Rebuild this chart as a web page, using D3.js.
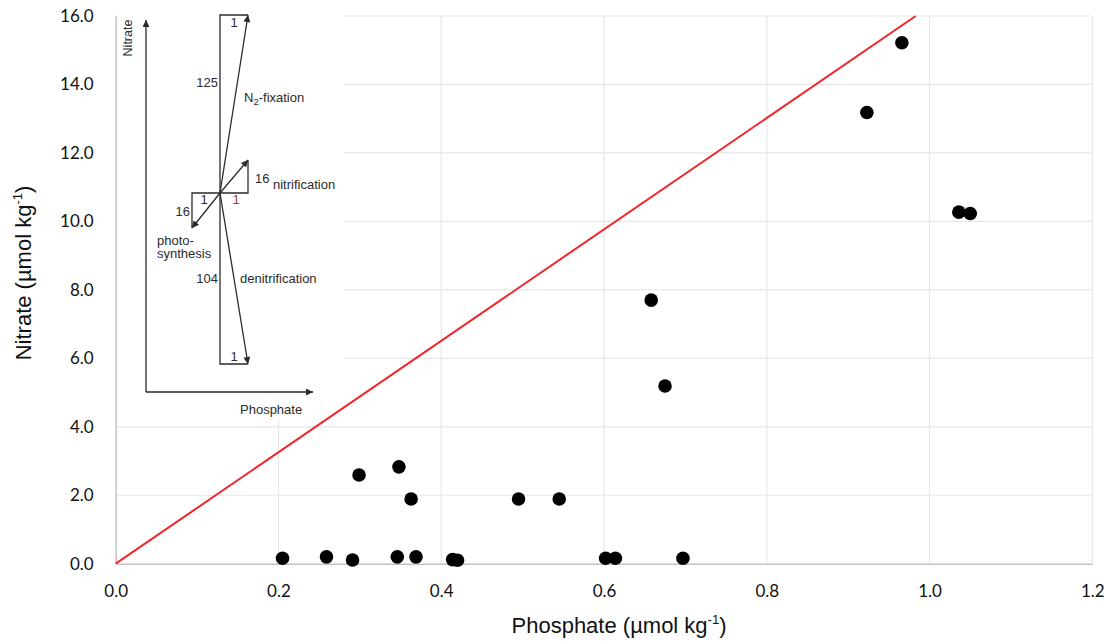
<!DOCTYPE html>
<html>
<head>
<meta charset="utf-8">
<script src="https://cdn.jsdelivr.net/npm/d3@7"></script>
<style>
  body { margin: 0; background: #ffffff; }
  svg { display: block; }
</style>
</head>
<body>
<svg id="chart" width="1113" height="644"></svg>
<script>
// measured samples
var phosphate = [0.205, 0.259, 0.291, 0.299, 0.348, 0.346, 0.363, 0.369, 0.414, 0.420,
                 0.495, 0.545, 0.602, 0.614, 0.658, 0.675, 0.697, 0.923, 0.966, 1.036, 1.050];
var nitrate   = [0.16, 0.20, 0.11, 2.59, 2.83, 0.20, 1.89, 0.20, 0.12, 0.10,
                 1.89, 1.89, 0.16, 0.16, 7.70, 5.19, 0.16, 13.18, 15.22, 10.27, 10.23];

// redfield reference line
var redfieldP = [0, 0.983];
var redfieldN = [0, 16];

var xTicks = [0, 0.2, 0.4, 0.6, 0.8, 1.0, 1.2];
var yTicks = [0, 2, 4, 6, 8, 10, 12, 14, 16];

var chart = {

	svg : null,

	layout : {
		left : 115.7,
		right : 1092.3,
		top : 16,
		bottom : 563.7
	},

	x : null,
	y : null,

	init : function(id) {
		var that = this;
		that.svg = d3.select(id);
		that.x = d3.scaleLinear().domain([0, 1.2]).range([that.layout.left, that.layout.right]);
		that.y = d3.scaleLinear().domain([0, 16]).range([that.layout.bottom, that.layout.top]);
	},

	draw : function() {
		var that = this;
		that.drawGrid();
		that.drawAxes();
		that.drawInset();
		that.drawLine();
		that.drawPoints();
		that.drawTitles();
	},

	drawGrid : function() {
		var that = this;
		var g = that.svg.append("g");
		g.selectAll("line.gx").data(xTicks.slice(1)).enter().append("line")
			.attr("x1", function(d) { return that.x(d); }).attr("x2", function(d) { return that.x(d); })
			.attr("y1", that.layout.top).attr("y2", that.layout.bottom)
			.attr("stroke", "#e7e7e7").attr("stroke-width", 1.2);
		g.selectAll("line.gy").data(yTicks.slice(1)).enter().append("line")
			.attr("x1", that.layout.left).attr("x2", that.layout.right)
			.attr("y1", function(d) { return that.y(d); }).attr("y2", function(d) { return that.y(d); })
			.attr("stroke", "#e7e7e7").attr("stroke-width", 1.2);
	},

	drawAxes : function() {
		var that = this;
		var xAxis = d3.axisBottom(that.x).tickValues(xTicks).tickSize(0).tickPadding(21).tickFormat(d3.format(".1f"));
		var yAxis = d3.axisLeft(that.y).tickValues(yTicks).tickSize(0).tickPadding(22).tickFormat(d3.format(".1f"));

		var gx = that.svg.append("g").attr("transform", "translate(0," + that.layout.bottom + ")").call(xAxis);
		var gy = that.svg.append("g").attr("transform", "translate(" + that.layout.left + ",0)").call(yAxis);

		[gx, gy].forEach(function(g) {
			g.select(".domain").attr("stroke", "#c2c2c2").attr("stroke-width", 1.5);
			g.selectAll("text").attr("font-family", "Lato, 'Open Sans', sans-serif")
				.attr("font-size", "17px").attr("fill", "#111111");
		});
	},

	drawInset : function() {
		var that = this;
		var g = that.svg.append("g");
		var ink = "#2b2b2b";
		var font = "'Liberation Sans', Arial, sans-serif";

		g.append("rect").attr("x", 117).attr("y", 0).attr("width", 227).attr("height", 420).attr("fill", "#ffffff");

		var defs = that.svg.append("defs");
		defs.append("marker").attr("id", "arr").attr("viewBox", "0 0 10 10")
			.attr("refX", 10).attr("refY", 5).attr("markerWidth", 9).attr("markerHeight", 7)
			.attr("markerUnits", "userSpaceOnUse").attr("orient", "auto")
			.append("path").attr("d", "M0,0 L10,5 L0,10 Z").attr("fill", ink);

		// axes of the sketch
		g.append("path").attr("d", "M146,392 L146,20").attr("stroke", ink).attr("stroke-width", 1.3).attr("fill", "none").attr("marker-end", "url(#arr)");
		g.append("path").attr("d", "M146,392 L313,392").attr("stroke", ink).attr("stroke-width", 1.3).attr("fill", "none").attr("marker-end", "url(#arr)");

		// boxes
		var boxes = ["M248,15 L220,15 L220,364 L248,364", "M220,193 L248,193 L248,160", "M220,193 L192,193 L192,228"];
		boxes.forEach(function(d) {
			g.append("path").attr("d", d).attr("stroke", ink).attr("stroke-width", 1.3).attr("fill", "none");
		});

		// process vectors from the centre
		var tips = [[248, 15], [248, 160], [192, 228], [248, 364]];
		tips.forEach(function(t) {
			g.append("line").attr("x1", 220).attr("y1", 193).attr("x2", t[0]).attr("y2", t[1])
				.attr("stroke", ink).attr("stroke-width", 1.3).attr("marker-end", "url(#arr)");
		});

		var txt = function(x, y, s, anchor, color) {
			return g.append("text").attr("x", x).attr("y", y).attr("font-family", font).attr("font-size", "13px")
				.attr("fill", color || ink).attr("text-anchor", anchor || "start").text(s);
		};

		g.append("text").attr("transform", "translate(132,38) rotate(-90)").attr("text-anchor", "middle")
			.attr("font-family", font).attr("font-size", "12.5px").attr("fill", ink).text("Nitrate");
		txt(240, 414, "Phosphate");

		txt(234, 27, "1", "middle");
		txt(218, 87, "125", "end");
		var n2 = txt(244, 102, "N");
		n2.append("tspan").attr("font-size", "9.5px").attr("dy", 3).text("2");
		n2.append("tspan").attr("dy", -3).text("-fixation");

		txt(255, 183, "16");
		txt(273, 189, "nitrification");
		txt(204, 204, "1", "middle");
		txt(236, 204, "1", "middle", "#9c3b28");
		txt(190, 216, "16", "end");
		txt(157, 245, "photo-");
		txt(157, 258, "synthesis");
		txt(218, 283, "104", "end");
		txt(240, 283, "denitrification");
		txt(234, 361, "1", "middle");
	},

	drawLine : function() {
		var that = this;
		var pts = redfieldP.map(function(p, i) { return [p, redfieldN[i]]; });
		var line = d3.line().x(function(d) { return that.x(d[0]); }).y(function(d) { return that.y(d[1]); });
		that.svg.append("path").datum(pts).attr("d", line)
			.attr("stroke", "#f0262c").attr("stroke-width", 2).attr("fill", "none");
	},

	drawPoints : function() {
		var that = this;
		var pts = phosphate.map(function(p, i) { return { p : p, n : nitrate[i] }; });
		that.svg.append("g").selectAll("circle").data(pts).enter().append("circle")
			.attr("cx", function(d) { return that.x(d.p); })
			.attr("cy", function(d) { return that.y(d.n); })
			.attr("r", 6.8).attr("fill", "#000000");
	},

	drawTitles : function() {
		var that = this;
		var font = "'Liberation Sans', Arial, sans-serif";

		var xt = that.svg.append("text").attr("x", 619).attr("y", 633).attr("text-anchor", "middle")
			.attr("font-family", font).attr("font-size", "22px").attr("fill", "#111111").text("Phosphate (\u00b5mol kg");
		xt.append("tspan").attr("font-size", "13px").attr("dy", -9).text("-1");
		xt.append("tspan").attr("dy", 9).text(")");

		var yt = that.svg.append("text").attr("transform", "translate(31,273) rotate(-90)").attr("text-anchor", "middle")
			.attr("font-family", font).attr("font-size", "22px").attr("fill", "#111111").text("Nitrate (\u00b5mol kg");
		yt.append("tspan").attr("font-size", "13px").attr("dy", -9).text("-1");
		yt.append("tspan").attr("dy", 9).text(")");
	}
};

chart.init("#chart");
chart.draw();
</script>
</body>
</html>
